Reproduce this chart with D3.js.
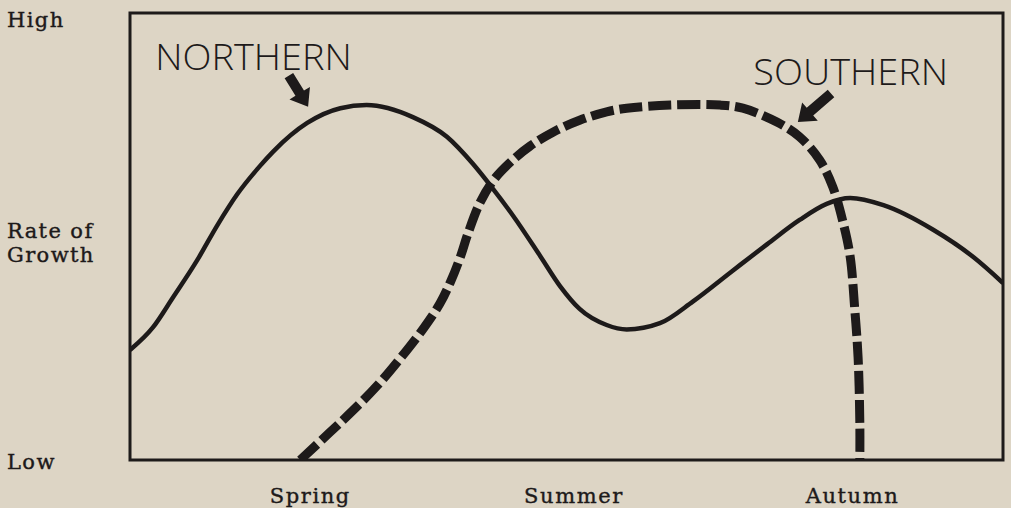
<!DOCTYPE html>
<html>
<head>
<meta charset="utf-8">
<script src="https://cdn.jsdelivr.net/npm/d3@7"></script>
<style>
  html, body { margin: 0; padding: 0; background: #ddd5c5; }
  svg { display: block; }
</style>
</head>
<body>
<svg id="chart" width="1011" height="508"></svg>
<script>
// ---- Data (x: progress through growing season 0-100, y: relative rate of growth 0-100) ----
const northernX = [0, 2.6, 4.9, 7.7, 10.0, 12.3, 14.9, 16.4, 20.3, 24.1, 27.1, 32.4, 36.3, 39.3, 41.6, 43.9, 47.0, 49.3, 51.5, 54.6, 56.9, 60.7, 64.5, 69.0, 73.0, 76.7, 79.8, 82.5, 86.3, 92.0, 96.6, 100];
const northernY = [24.6, 29.6, 36.3, 44.7, 52.5, 59.5, 65.8, 69.0, 75.4, 78.7, 79.4, 76.7, 72.3, 66.2, 60.6, 54.6, 45.6, 38.8, 33.8, 30.2, 29.2, 30.6, 35.5, 42.3, 48.3, 53.7, 57.3, 58.6, 57.0, 51.5, 45.4, 39.6];

const southernX = [19.5, 22.9, 25.5, 28.3, 30.9, 33.6, 35.5, 36.7, 37.8, 38.7, 40.1, 41.8, 43.9, 45.8, 48.5, 51.5, 54.6, 56.9, 61.9, 67.6, 70.2, 74.1, 76.7, 79.0, 80.5, 81.7, 82.5, 83.0, 83.4, 83.6, 83.6];
const southernY = [0, 6.2, 11.0, 16.6, 22.6, 29.4, 35.0, 39.8, 45.2, 50.6, 57.6, 63.0, 67.2, 70.2, 73.4, 76.0, 77.9, 78.7, 79.4, 79.4, 78.7, 75.6, 72.3, 67.1, 61.1, 53.0, 45.4, 34.2, 23.0, 8.3, 0];

const seasonLabels = ["Spring", "Summer", "Autumn"];
const seasonValues = [20.6, 50.8, 82.7];

const yLabels = [["High"], ["Rate of", "Growth"], ["Low"]];
const yLabelValues = [98.5, 48.5, -0.5];

const seriesNames = ["NORTHERN", "SOUTHERN"];

// ---- Layout ----
const W = 1011, H = 508;
const ink = "#1d1a1a";
const x = d3.scaleLinear().domain([0, 100]).range([130, 1003]);
const y = d3.scaleLinear().domain([0, 100]).range([460, 13]);

const svg = d3.select("#chart");
svg.append("rect").attr("width", W).attr("height", H).attr("fill", "#ddd5c5");

// Frame
svg.append("rect")
  .attr("x", x(0)).attr("y", y(100))
  .attr("width", x(100) - x(0)).attr("height", y(0) - y(100))
  .attr("fill", "none").attr("stroke", ink).attr("stroke-width", 3);

const lineN = d3.line()
  .x(d => x(d[0])).y(d => y(d[1]))
  .curve(d3.curveMonotoneX);
const lineS = d3.line()
  .x(d => x(d[0])).y(d => y(d[1]))
  .curve(d3.curveCatmullRom.alpha(0.5));

const northern = northernX.map((v, i) => [v, northernY[i]]);
const southern = southernX.map((v, i) => [v, southernY[i]]);

svg.append("clipPath").attr("id", "plotclip")
  .append("rect").attr("x", x(0)).attr("y", y(100))
  .attr("width", x(100) - x(0)).attr("height", y(0) - y(100));

const g = svg.append("g").attr("clip-path", "url(#plotclip)");

g.append("path").datum(southern)
  .attr("d", lineS)
  .attr("fill", "none").attr("stroke", ink)
  .attr("stroke-width", 9)
  .attr("stroke-dasharray", "23,6")
  .attr("stroke-linecap", "butt");

g.append("path").datum(northern)
  .attr("d", lineN)
  .attr("fill", "none").attr("stroke", ink)
  .attr("stroke-width", 4.5)
  .attr("stroke-linejoin", "round");

// Series labels
const labelFont = "'DejaVu Sans ExtraLight', 'Open Sans', Inter, 'DejaVu Sans', sans-serif";
const seriesLabelPos = [[2.9, 87.2, 25.4], [71.4, 83.9, 93.7]];
seriesNames.forEach((name, i) => {
  const p = seriesLabelPos[i];
  svg.append("text")
    .attr("x", x(p[0])).attr("y", y(p[1]))
    .attr("textLength", x(p[2]) - x(p[0]))
    .attr("lengthAdjust", "spacingAndGlyphs")
    .attr("font-family", labelFont)
    .attr("font-weight", 200)
    .attr("font-size", 37)
    .attr("fill", ink)
    .text(name);
});

// Arrows (tail -> tip in data coords)
const arrows = [[[18.2, 86.0], [20.4, 79.0]], [[80.3, 82.0], [76.5, 75.6]]];
arrows.forEach(a => {
  const x1 = x(a[0][0]), y1 = y(a[0][1]), x2 = x(a[1][0]), y2 = y(a[1][1]);
  const dx = x2 - x1, dy = y2 - y1, len = Math.hypot(dx, dy);
  const ux = dx / len, uy = dy / len, px = -uy, py = ux;
  const headL = 16, headW = 12, shaftW = 5;
  const bx = x2 - ux * headL, by = y2 - uy * headL;
  const pts = [
    [x1 + px * shaftW, y1 + py * shaftW],
    [bx + px * shaftW, by + py * shaftW],
    [bx + px * headW, by + py * headW],
    [x2, y2],
    [bx - px * headW, by - py * headW],
    [bx - px * shaftW, by - py * shaftW],
    [x1 - px * shaftW, y1 - py * shaftW]
  ];
  svg.append("path").attr("d", "M" + pts.map(p => p.join(",")).join("L") + "Z")
    .attr("fill", ink);
});

// Season axis (bottom)
const serif = "'DejaVu Serif', 'Liberation Serif', serif";
const xAxis = d3.axisBottom(x)
  .tickValues(seasonValues)
  .tickFormat((d, i) => seasonLabels[i])
  .tickSize(0).tickPadding(0);
const ax = svg.append("g").attr("transform", `translate(0, ${y(0)})`).call(xAxis);
ax.select(".domain").remove();
ax.selectAll("text")
  .attr("y", 43).attr("dy", 0)
  .attr("font-family", serif)
  .attr("font-size", 21)
  .attr("letter-spacing", 1.6)
  .attr("fill", ink)
  .attr("stroke", ink).attr("stroke-width", 0.4);

// Y labels (left)
yLabels.forEach((lines, i) => {
  const t = svg.append("text")
    .attr("x", 7)
    .attr("font-family", serif)
    .attr("font-size", 21)
    .attr("letter-spacing", 1.4)
    .attr("fill", ink)
    .attr("stroke", ink).attr("stroke-width", 0.4);
  const cy = y(yLabelValues[i]);
  const n = lines.length;
  lines.forEach((s, j) => {
    t.append("tspan").attr("x", 7)
      .attr("y", cy + 7 + (j - (n - 1) / 2) * 24)
      .text(s);
  });
});
</script>
</body>
</html>
